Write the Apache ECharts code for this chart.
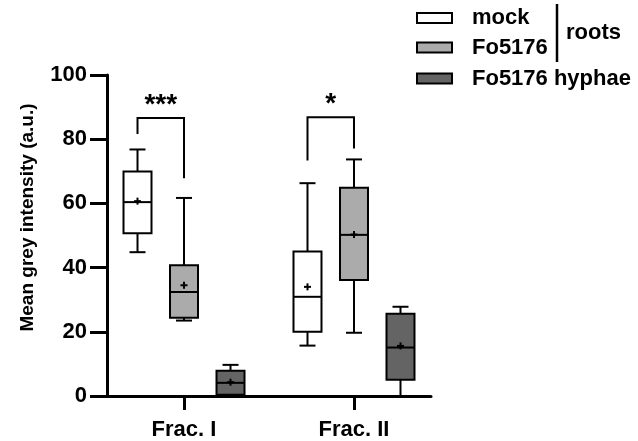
<!DOCTYPE html>
<html><head><meta charset="utf-8">
<script src="https://cdn.jsdelivr.net/npm/echarts@6/dist/echarts.min.js"></script>
<style>html,body{margin:0;padding:0;background:#fff}#c{width:638px;height:441px}</style>
</head><body><div id="c"></div>
<script>
// ---- data ----
const categories = ['Frac. I', 'Frac. II'];
const seriesNames = ['mock', 'Fo5176', 'Fo5176 hyphae'];
const groupLabel = 'roots';
const yTitle = 'Mean grey intensity (a.u.)';
// per category: [whiskerLow, q1, median, q3, whiskerHigh, mean]
const mockStats   = [[44.8, 50.7, 60.4, 69.9, 76.8, 60.7], [15.7, 20.0, 30.9, 45.0, 66.3, 34.0]];
const fo5176Stats = [[23.5, 24.4, 32.4, 40.7, 61.7, 34.5], [19.7, 36.1, 50.2, 64.9, 73.7, 50.3]];
const hyphaeStats = [[0.0, 0.4, 4.1, 7.9, 9.7, 4.3], [0.0, 5.1, 15.1, 25.6, 27.8, 15.6]];
// significance brackets: [barTop, leftEnd, rightEnd] per category
const sigLines  = [[86.6, 81.6, 67.8], [86.8, 73.4, 77.1]];
const sigLabels = ['***', '*'];
const yMin = 0, yMax = 100, yStep = 20;

// ---- styles ----
const FONT = '"Liberation Sans", Arial, sans-serif';
const fills = ['#ffffff', '#ababab', '#646464'];
const offsets = [-46.5, 0, 46.5];

function boxRender(offsetPx, fill) {
  return function (params, api) {
    const cat = api.value(0);
    const cx = api.coord([cat, 0])[0] + offsetPx;
    const y = v => api.coord([cat, v])[1];
    const wl = y(api.value(1)), q1 = y(api.value(2)), med = y(api.value(3)),
          q3 = y(api.value(4)), wh = y(api.value(5)), mean = y(api.value(6));
    const hw = 14, cap = 8, m = 3.5;
    const ls = { stroke: '#000', lineWidth: 2 };
    return { type: 'group', children: [
      { type: 'line', shape: { x1: cx, y1: wh, x2: cx, y2: q3 }, style: ls },
      { type: 'line', shape: { x1: cx - cap, y1: wh, x2: cx + cap, y2: wh }, style: ls },
      { type: 'line', shape: { x1: cx, y1: wl, x2: cx, y2: q1 }, style: ls },
      { type: 'line', shape: { x1: cx - cap, y1: wl, x2: cx + cap, y2: wl }, style: ls },
      { type: 'rect', shape: { x: cx - hw, y: q3, width: 2 * hw, height: q1 - q3 }, style: { fill: fill, stroke: '#000', lineWidth: 2 } },
      { type: 'line', shape: { x1: cx - hw, y1: med, x2: cx + hw, y2: med }, style: ls },
      { type: 'line', shape: { x1: cx - m, y1: mean, x2: cx + m, y2: mean }, style: ls },
      { type: 'line', shape: { x1: cx, y1: mean - m, x2: cx, y2: mean + m }, style: ls }
    ]};
  };
}

function sigRender(params, api) {
  const cat = api.value(0);
  const base = api.coord([cat, 0])[0];
  const xl = base + offsets[0], xr = base + offsets[1];
  const top = api.coord([cat, api.value(1)])[1];
  const yl = api.coord([cat, api.value(2)])[1];
  const yr = api.coord([cat, api.value(3)])[1];
  const ls = { stroke: '#000', lineWidth: 2, fill: null };
  return { type: 'group', children: [
    { type: 'polyline', shape: { points: [[xl, yl], [xl, top], [xr, top], [xr, yr]] }, style: ls },
    { type: 'text', style: { text: sigLabels[params.dataIndex], x: (xl + xr) / 2, y: top + 1,
        align: 'center', verticalAlign: 'bottom', fontSize: 28, fontWeight: 'bold', fontFamily: FONT, fill: '#000' } }
  ]};
}

const allStats = [mockStats, fo5176Stats, hyphaeStats];
const series = allStats.map((st, k) => ({
  type: 'custom', name: seriesNames[k], clip: false,
  renderItem: boxRender(offsets[k], fills[k]),
  data: st.map((s, i) => [i + 1].concat(s))
}));
series.push({
  type: 'custom', name: 'sig', clip: false, renderItem: sigRender,
  data: sigLines.map((s, i) => [i + 1].concat(s))
});

// legend graphic
const legendY = [18, 47.5, 78.5];
const graphic = [];
seriesNames.forEach((n, k) => {
  graphic.push({ type: 'rect', shape: { x: 417, y: legendY[k] - 5, width: 35, height: 10 },
    style: { fill: fills[k], stroke: '#000', lineWidth: 2 } });
  graphic.push({ type: 'text', style: { text: n, x: 472, y: legendY[k], verticalAlign: 'middle',
    fontSize: 22, fontWeight: 'bold', fontFamily: FONT, fill: '#000' } });
});
graphic.push({ type: 'line', shape: { x1: 557, y1: 4, x2: 557, y2: 62 }, style: { stroke: '#000', lineWidth: 2.5 } });
graphic.push({ type: 'text', style: { text: groupLabel, x: 566, y: 33, verticalAlign: 'middle',
  fontSize: 22, fontWeight: 'bold', fontFamily: FONT, fill: '#000' } });

const chart = echarts.init(document.getElementById('c'), null, { renderer: 'canvas' });
chart.setOption({
  animation: false,
  backgroundColor: '#fff',
  grid: { left: 107, right: 207, top: 75, bottom: 43, containLabel: false },
  xAxis: {
    type: 'value', min: 0.547, max: 2.453,
    axisLine: { lineStyle: { color: '#000', width: 3 } },
    axisTick: { show: true, length: 14, lineStyle: { color: '#000', width: 3 }, customValues: [1, 2] },
    axisLabel: { customValues: [1, 2], formatter: v => categories[Math.round(v) - 1] || '',
      margin: 23, fontSize: 22, fontWeight: 'bold', fontFamily: FONT, color: '#000' },
    splitLine: { show: false }
  },
  yAxis: {
    type: 'value', min: yMin, max: yMax, interval: yStep,
    name: yTitle, nameLocation: 'middle', nameGap: 70,
    nameTextStyle: { fontSize: 19, fontWeight: 'bold', fontFamily: FONT, color: '#000', padding: [0, 0, 0, 36] },
    axisLine: { show: true, lineStyle: { color: '#000', width: 3 } },
    axisTick: { show: true, length: 17, lineStyle: { color: '#000', width: 3 } },
    axisLabel: { margin: 20, fontSize: 22, fontWeight: 'bold', fontFamily: FONT, color: '#000' },
    splitLine: { show: false }
  },
  series: series,
  graphic: graphic
});
</script></body></html>
